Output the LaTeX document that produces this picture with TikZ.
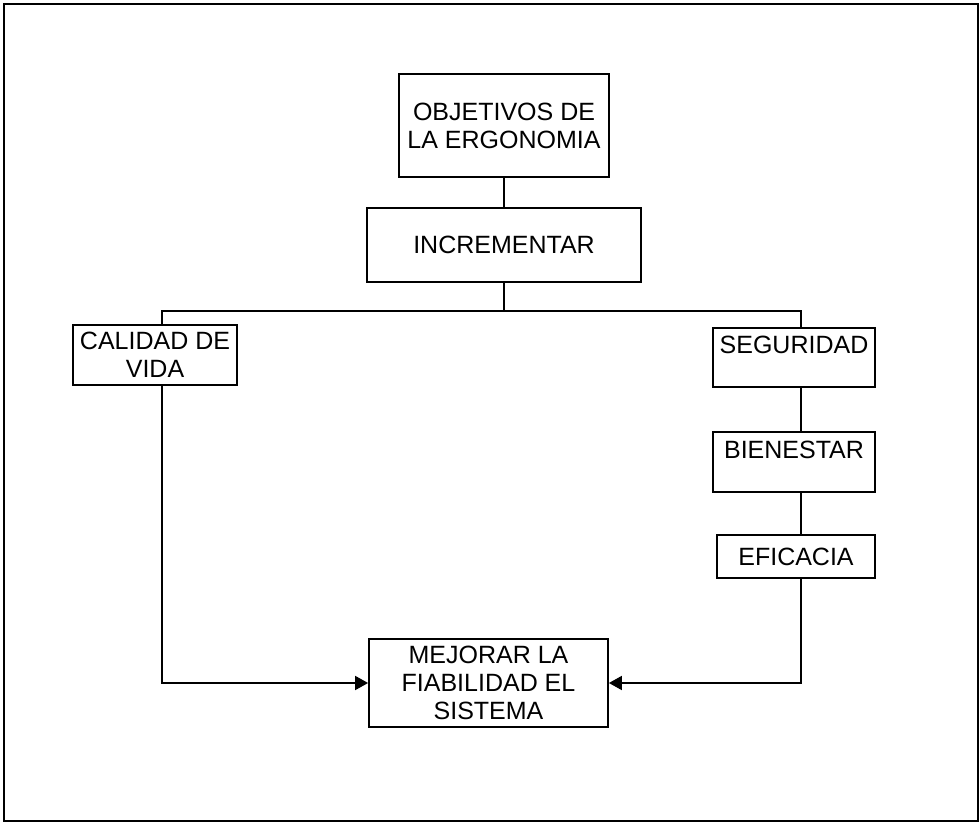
\documentclass[tikz,border=0pt]{standalone}
\usepackage{fontspec}
\setmainfont{Liberation Sans}
\usetikzlibrary{arrows.meta,positioning,calc}

\begin{document}
\begin{tikzpicture}[
  x=0.5pt, y=-0.5pt,
  box/.style={draw, line width=0.9pt, align=center, inner sep=0pt,
              font=\fontsize{12.5}{13.9}\selectfont},
  topbox/.style={box, text height=13pt, text depth=16.5pt},
  link/.style={draw, line width=0.9pt},
  goal/.style={link, -{Triangle[length=6.5pt,width=7pt]}},
]
  % frame
  \useasboundingbox (0,0) rectangle (980,823);
  \draw[line width=0.6pt] (4,4) rectangle (978,821);

  % top of the tree
  \node[box, minimum width=105pt, minimum height=51.5pt] (obj) at (504,125.5)
    {OBJETIVOS DE\\LA ERGONOMIA};
  \node[box, minimum width=137pt, minimum height=37pt] (incr) at (504,245)
    {INCREMENTAR};

  % left branch
  \node[box, minimum width=82pt, minimum height=30pt] (calidad) at (155,355)
    {CALIDAD DE\\VIDA};

  % right branch
  \node[topbox, minimum width=81pt, minimum height=29.5pt] (seg) at (794,357.5)
    {SEGURIDAD};
  \node[topbox, minimum width=81pt, minimum height=30pt] (bien) at (794,462)
    {BIENESTAR};
  \node[box, minimum width=79pt, minimum height=21.5pt] (efi) at (796,556.5)
    {EFICACIA};

  % goal
  \node[box, minimum width=119.5pt, minimum height=44pt] (mej) at (488.5,683)
    {MEJORAR LA\\FIABILIDAD EL\\SISTEMA};

  % columns of the connectors
  \coordinate (split) at (504,311);
  \coordinate (lcol) at (162,683);
  \coordinate (rcol) at (801,683);

  % Edges
  \draw[link] (obj) -- (incr);
  \draw[link] (incr) -- (split);
  \draw[link] (lcol |- calidad.north) -- (lcol |- split) -- (rcol |- split)
    -- (rcol |- seg.north);
  \draw[link] (rcol |- seg.south) -- (rcol |- bien.north);
  \draw[link] (rcol |- bien.south) -- (rcol |- efi.north);
  \draw[goal] (lcol |- calidad.south) |- (mej.west);
  \draw[goal] (rcol |- efi.south) |- (mej.east);
\end{tikzpicture}
\end{document}
